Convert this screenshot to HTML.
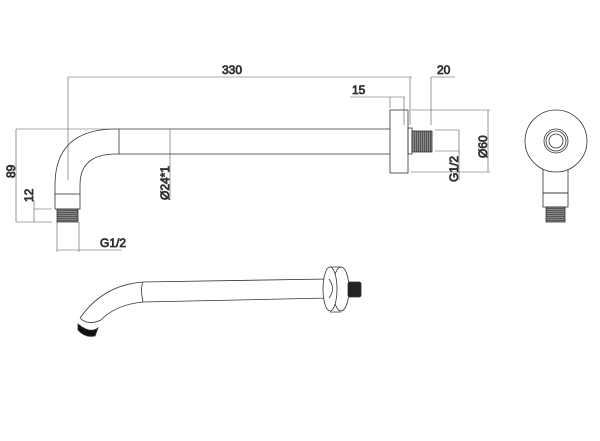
<!DOCTYPE html><html><head><style>body{margin:0;background:#fff}svg{display:block}text{font-family:"Liberation Sans",sans-serif;font-size:12px;fill:#222}</style></head><body>
<svg width="600" height="441" viewBox="0 0 600 441" fill="none" stroke="#333" stroke-width="0.8">
<defs><pattern id="th" width="2" height="2" patternUnits="userSpaceOnUse"><rect width="2" height="2" fill="#888" stroke="none"/><line x1="0" y1="0" x2="0" y2="2" stroke="#222" stroke-width="1"/></pattern>
<pattern id="tv" width="2" height="2" patternUnits="userSpaceOnUse"><rect width="2" height="2" fill="#888" stroke="none"/><line x1="0" y1="0" x2="2" y2="0" stroke="#222" stroke-width="1"/></pattern></defs>
<!-- top view -->
<path d="M55 194 L55 185 Q55 129 116 129 L390 129"/>
<path d="M80 194 L80 185 Q80 154 116 154 L390 154"/>
<line x1="119" y1="129" x2="119" y2="154"/>
<rect x="55" y="194" width="25" height="15"/>
<rect x="57" y="209" width="21" height="13" fill="url(#tv)"/>
<rect x="390" y="110" width="18" height="63"/>
<rect x="408" y="128" width="4" height="26"/>
<rect x="412" y="131" width="20" height="21" fill="url(#th)"/>
<!-- dims -->
<g stroke="#555" stroke-width="0.6">
<line x1="68" y1="77" x2="412" y2="77"/><line x1="68" y1="77" x2="68" y2="180"/>
<line x1="410" y1="77" x2="410" y2="125"/><line x1="431" y1="77" x2="431" y2="125"/><line x1="431" y1="77" x2="455" y2="77"/>
<line x1="350" y1="97" x2="405" y2="97"/><line x1="390" y1="97" x2="390" y2="108"/><line x1="404" y1="97" x2="404" y2="125"/>
<line x1="435" y1="130" x2="459" y2="130"/><line x1="435" y1="151" x2="459" y2="151"/><line x1="459" y1="130" x2="459" y2="180"/>
<line x1="411" y1="110" x2="490" y2="110"/><line x1="411" y1="172" x2="490" y2="172"/><line x1="488" y1="110" x2="488" y2="172"/>
<line x1="16" y1="129" x2="116" y2="129"/><line x1="16" y1="129" x2="16" y2="222"/><line x1="16" y1="222" x2="52" y2="222"/>
<line x1="34" y1="209" x2="52" y2="209"/><line x1="34" y1="200" x2="34" y2="222"/>
<line x1="170" y1="129" x2="170" y2="200"/>
<line x1="57" y1="222" x2="57" y2="252"/><line x1="79" y1="222" x2="79" y2="252"/><line x1="57" y1="250" x2="122" y2="250"/>
</g>
<text x="222" y="74">330</text><text x="437" y="74">20</text><text x="352" y="94">15</text>
<text x="100" y="247">G1/2</text>
<text transform="translate(15,178) rotate(-90)">89</text>
<text transform="translate(33,202) rotate(-90)">12</text>
<text transform="translate(169,200) rotate(-90)">Ø24*1</text>
<text transform="translate(458,182) rotate(-90)">G1/2</text>
<text transform="translate(487,158) rotate(-90)">Ø60</text>
<!-- side view -->
<path d="M543 168 L543 193 L568 193 L568 168"/>
<circle cx="556" cy="141" r="31" fill="#fff"/>
<circle cx="556" cy="141" r="12"/><circle cx="556" cy="141" r="10"/><circle cx="556" cy="141" r="7"/>
<rect x="543" y="193" width="25" height="14"/>
<rect x="546" y="207" width="19" height="15" fill="url(#tv)"/>
<!-- perspective -->
<path d="M143 282 L329 279"/><path d="M143 302 L329 298"/>
<path d="M143 282 Q140 288 143 302"/>
<path d="M143 282 Q103 285 80 318"/><path d="M143 302 Q115 305 101 320"/>
<path d="M80 318 Q88 326 101 320"/>
<path d="M78 324 Q90 334 98 328 L95 336 Q85 338 78 330 Z" fill="#111"/>
<ellipse cx="341" cy="289" rx="8" ry="22" fill="#fff"/>
<path d="M330 267 L341 267 M330 312 L341 312"/>
<ellipse cx="330" cy="289" rx="7" ry="22" fill="#fff"/>
<path d="M329 279 Q336 289 329 298"/>
<rect x="348" y="282" width="13" height="15" rx="2" fill="#222"/>
</svg></body></html>
